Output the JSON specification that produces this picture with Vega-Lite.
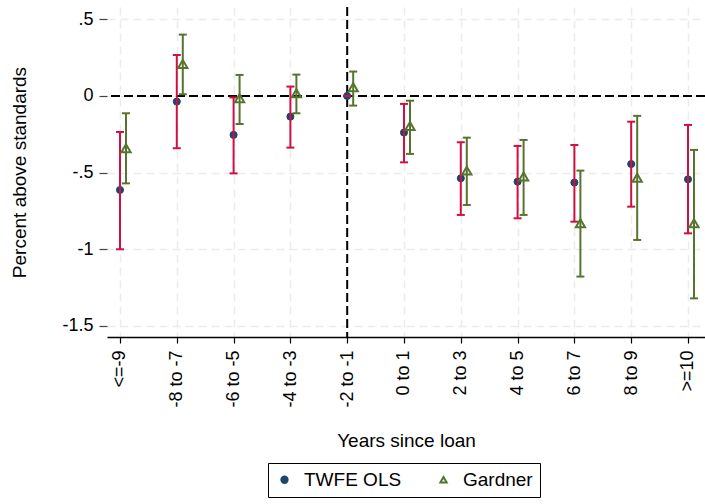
{
  "$schema": "https://vega.github.io/schema/vega-lite/v6.json",
  "width": 598,
  "height": 330,
  "autosize": "none",
  "padding": {"left": 107, "top": 7, "right": 0, "bottom": 167},
  "background": "white",
  "config": {"font": "Liberation Sans", "view": {"stroke": null}},
  "data": {
    "values": [
      {"cat": "<=-9", "series": "TWFE OLS", "est": -0.613, "lo": -1.0, "hi": -0.235},
      {"cat": "-8 to -7", "series": "TWFE OLS", "est": -0.037, "lo": -0.341, "hi": 0.267},
      {"cat": "-6 to -5", "series": "TWFE OLS", "est": -0.254, "lo": -0.505, "hi": -0.01},
      {"cat": "-4 to -3", "series": "TWFE OLS", "est": -0.135, "lo": -0.337, "hi": 0.061},
      {"cat": "-2 to -1", "series": "TWFE OLS", "est": 0, "lo": 0, "hi": 0},
      {"cat": "0 to 1", "series": "TWFE OLS", "est": -0.239, "lo": -0.433, "hi": -0.052},
      {"cat": "2 to 3", "series": "TWFE OLS", "est": -0.537, "lo": -0.776, "hi": -0.302},
      {"cat": "4 to 5", "series": "TWFE OLS", "est": -0.559, "lo": -0.798, "hi": -0.326},
      {"cat": "6 to 7", "series": "TWFE OLS", "est": -0.565, "lo": -0.82, "hi": -0.32},
      {"cat": "8 to 9", "series": "TWFE OLS", "est": -0.444, "lo": -0.722, "hi": -0.168},
      {"cat": ">=10", "series": "TWFE OLS", "est": -0.544, "lo": -0.896, "hi": -0.189},
      {"cat": "<=-9", "series": "Gardner", "est": -0.341, "lo": -0.57, "hi": -0.113},
      {"cat": "-8 to -7", "series": "Gardner", "est": 0.209, "lo": 0.011, "hi": 0.4},
      {"cat": "-6 to -5", "series": "Gardner", "est": -0.015, "lo": -0.183, "hi": 0.137},
      {"cat": "-4 to -3", "series": "Gardner", "est": 0.017, "lo": -0.113, "hi": 0.139},
      {"cat": "-2 to -1", "series": "Gardner", "est": 0.057, "lo": -0.063, "hi": 0.159},
      {"cat": "0 to 1", "series": "Gardner", "est": -0.196, "lo": -0.378, "hi": -0.031},
      {"cat": "2 to 3", "series": "Gardner", "est": -0.487, "lo": -0.711, "hi": -0.272},
      {"cat": "4 to 5", "series": "Gardner", "est": -0.526, "lo": -0.776, "hi": -0.287},
      {"cat": "6 to 7", "series": "Gardner", "est": -0.83, "lo": -1.178, "hi": -0.487},
      {"cat": "8 to 9", "series": "Gardner", "est": -0.533, "lo": -0.939, "hi": -0.13},
      {"cat": ">=10", "series": "Gardner", "est": -0.83, "lo": -1.32, "hi": -0.352}
    ]
  },
  "layer": [
    {
      "transform": [{"filter": "datum.series == 'TWFE OLS' && datum.cat == '-2 to -1'"}],
      "mark": {"type": "rule", "color": "black", "strokeWidth": 2, "strokeDash": [9, 4]},
      "encoding": {
        "x": {
          "field": "cat", "type": "ordinal", "title": "Years since loan",
          "scale": {"type": "point", "domain": ["<=-9", "-8 to -7", "-6 to -5", "-4 to -3", "-2 to -1", "0 to 1", "2 to 3", "4 to 5", "6 to 7", "8 to 9", ">=10"], "padding": 0.264, "align": 0.433},
          "axis": {
            "labelAngle": -90, "labelAlign": "right", "labelBaseline": "middle",
            "labelFontSize": 18, "labelColor": "black", "labelPadding": 7,
            "tickSize": 6, "tickColor": "black", "tickWidth": 1.2,
            "domainColor": "black", "domainWidth": 1.5,
            "grid": true, "gridColor": "#ececec", "gridDash": [8, 5], "gridWidth": 1.5,
            "titleFontSize": 19, "titleFontWeight": "normal", "titleColor": "black", "titlePadding": 24
          }
        }
      }
    },
    {
      "mark": {"type": "rule", "color": "black", "strokeWidth": 2, "strokeDash": [9, 4]},
      "encoding": {
        "y": {
          "datum": 0, "type": "quantitative", "title": "Percent above standards",
          "scale": {"domain": [-1.572, 0.58], "nice": false, "zero": false},
          "axis": {
            "values": [-1.5, -1, -0.5, 0, 0.5],
            "labelExpr": "replace(toString(datum.value), '0.', '.')",
            "domain": false, "tickSize": 8, "tickColor": "#444", "tickWidth": 1.2,
            "labelFontSize": 18, "labelColor": "black", "labelPadding": 6,
            "grid": true, "gridColor": "#ececec", "gridDash": [8, 5], "gridWidth": 1.5,
            "titleFontSize": 19, "titleFontWeight": "normal", "titleColor": "black", "titlePadding": 32
          }
        }
      }
    },
    {
      "transform": [{"filter": "datum.series == 'TWFE OLS'"}],
      "mark": {"type": "point", "filled": true, "size": 50, "strokeWidth": 1, "opacity": 1},
      "encoding": {
        "x": {"field": "cat", "type": "ordinal", "title": "Years since loan"},
        "y": {"field": "est", "type": "quantitative", "title": "Percent above standards"},
        "shape": {
          "field": "series", "type": "nominal",
          "scale": {"domain": ["TWFE OLS", "Gardner"], "range": ["circle", "triangle-up"]},
          "legend": {
            "title": null, "orient": "none", "legendX": 161, "legendY": 456,
            "direction": "horizontal", "strokeColor": "black",
            "padding": 7, "labelFontSize": 19, "labelColor": "black", "symbolSize": 40,
            "symbolStrokeWidth": 2, "columnPadding": 32, "labelOffset": 10
          }
        },
        "fill": {
          "field": "series", "type": "nominal",
          "scale": {"domain": ["TWFE OLS", "Gardner"], "range": ["#1a476f", "transparent"]}
        },
        "stroke": {
          "field": "series", "type": "nominal",
          "scale": {"domain": ["TWFE OLS", "Gardner"], "range": ["#1a476f", "#55752f"]}
        }
      }
    },
    {
      "transform": [{"filter": "datum.series == 'TWFE OLS'"}],
      "mark": {"type": "rule", "color": "#d01042", "strokeWidth": 2},
      "encoding": {
        "x": {"field": "cat", "type": "ordinal", "title": "Years since loan"},
        "y": {"field": "lo", "type": "quantitative", "title": "Percent above standards"},
        "y2": {"field": "hi"}
      }
    },
    {
      "transform": [{"filter": "datum.series == 'TWFE OLS'"}],
      "mark": {"type": "tick", "color": "#d01042", "size": 8, "thickness": 2, "opacity": 1},
      "encoding": {
        "x": {"field": "cat", "type": "ordinal", "title": "Years since loan"},
        "y": {"field": "lo", "type": "quantitative", "title": "Percent above standards"}
      }
    },
    {
      "transform": [{"filter": "datum.series == 'TWFE OLS'"}],
      "mark": {"type": "tick", "color": "#d01042", "size": 8, "thickness": 2, "opacity": 1},
      "encoding": {
        "x": {"field": "cat", "type": "ordinal", "title": "Years since loan"},
        "y": {"field": "hi", "type": "quantitative", "title": "Percent above standards"}
      }
    },
    {
      "transform": [{"filter": "datum.series == 'Gardner'"}],
      "mark": {"type": "rule", "color": "#55752f", "strokeWidth": 2, "xOffset": 6},
      "encoding": {
        "x": {"field": "cat", "type": "ordinal", "title": "Years since loan"},
        "y": {"field": "lo", "type": "quantitative", "title": "Percent above standards"},
        "y2": {"field": "hi"}
      }
    },
    {
      "transform": [{"filter": "datum.series == 'Gardner'"}],
      "mark": {"type": "tick", "color": "#55752f", "size": 8, "thickness": 2, "opacity": 1, "xOffset": 6},
      "encoding": {
        "x": {"field": "cat", "type": "ordinal", "title": "Years since loan"},
        "y": {"field": "lo", "type": "quantitative", "title": "Percent above standards"}
      }
    },
    {
      "transform": [{"filter": "datum.series == 'Gardner'"}],
      "mark": {"type": "tick", "color": "#55752f", "size": 8, "thickness": 2, "opacity": 1, "xOffset": 6},
      "encoding": {
        "x": {"field": "cat", "type": "ordinal", "title": "Years since loan"},
        "y": {"field": "hi", "type": "quantitative", "title": "Percent above standards"}
      }
    },
    {
      "transform": [{"filter": "datum.series == 'Gardner'"}],
      "mark": {"type": "point", "filled": true, "size": 85, "strokeWidth": 2, "opacity": 1, "xOffset": 6},
      "encoding": {
        "x": {"field": "cat", "type": "ordinal", "title": "Years since loan"},
        "y": {"field": "est", "type": "quantitative", "title": "Percent above standards"},
        "shape": {"field": "series", "type": "nominal"},
        "fill": {"field": "series", "type": "nominal"},
        "stroke": {"field": "series", "type": "nominal"}
      }
    }
  ]
}
